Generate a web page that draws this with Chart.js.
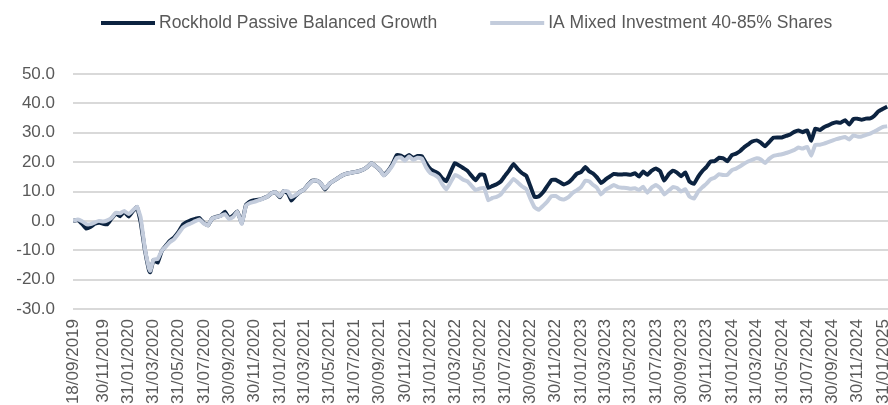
<!DOCTYPE html>
<html>
<head>
<meta charset="utf-8">
<script src="https://cdn.jsdelivr.net/npm/chart.js@4/dist/chart.umd.min.js"></script>
<style>
  html, body { margin: 0; padding: 0; background: #fff; overflow: hidden; }
  #wrap { position: relative; width: 888px; height: 405px; }
</style>
</head>
<body>
<div id="wrap"><canvas id="perfChart"></canvas></div>
<script>
// ── DATA (cumulative % return since 18/09/2019) ──
const dates = [
  '18/09/2019','30/09/2019','10/10/2019','20/10/2019','31/10/2019','10/11/2019','20/11/2019','30/11/2019','10/12/2019','20/12/2019','31/12/2019',
  '10/01/2020','20/01/2020','31/01/2020','10/02/2020','20/02/2020','29/02/2020','10/03/2020','20/03/2020','23/03/2020','31/03/2020',
  '10/04/2020','20/04/2020','30/04/2020','10/05/2020','20/05/2020','31/05/2020','10/06/2020','20/06/2020','30/06/2020',
  '10/07/2020','20/07/2020','31/07/2020','10/08/2020','20/08/2020','31/08/2020','10/09/2020','20/09/2020','30/09/2020',
  '10/10/2020','20/10/2020','31/10/2020','10/11/2020','20/11/2020','30/11/2020','10/12/2020','20/12/2020','31/12/2020',
  '10/01/2021','20/01/2021','31/01/2021','10/02/2021','20/02/2021','28/02/2021','10/03/2021','20/03/2021','31/03/2021',
  '10/04/2021','20/04/2021','30/04/2021','10/05/2021','20/05/2021','31/05/2021','10/06/2021','20/06/2021','30/06/2021',
  '10/07/2021','20/07/2021','31/07/2021','10/08/2021','20/08/2021','31/08/2021','10/09/2021','20/09/2021','30/09/2021',
  '10/10/2021','20/10/2021','31/10/2021','10/11/2021','20/11/2021','30/11/2021','10/12/2021','20/12/2021','31/12/2021',
  '10/01/2022','20/01/2022','31/01/2022','10/02/2022','20/02/2022','28/02/2022','10/03/2022','20/03/2022','31/03/2022',
  '10/04/2022','20/04/2022','30/04/2022','10/05/2022','20/05/2022','31/05/2022','10/06/2022','20/06/2022','30/06/2022',
  '10/07/2022','20/07/2022','31/07/2022','10/08/2022','20/08/2022','31/08/2022','10/09/2022','20/09/2022','30/09/2022',
  '10/10/2022','20/10/2022','31/10/2022','10/11/2022','20/11/2022','30/11/2022','10/12/2022','20/12/2022','31/12/2022',
  '10/01/2023','20/01/2023','31/01/2023','10/02/2023','20/02/2023','28/02/2023','10/03/2023','20/03/2023','31/03/2023',
  '10/04/2023','20/04/2023','30/04/2023','10/05/2023','20/05/2023','31/05/2023','10/06/2023','20/06/2023','30/06/2023',
  '10/07/2023','20/07/2023','31/07/2023','10/08/2023','20/08/2023','31/08/2023','10/09/2023','20/09/2023','30/09/2023',
  '10/10/2023','20/10/2023','31/10/2023','10/11/2023','20/11/2023','30/11/2023','10/12/2023','20/12/2023','31/12/2023',
  '10/01/2024','20/01/2024','31/01/2024','10/02/2024','20/02/2024','29/02/2024','10/03/2024','20/03/2024','31/03/2024',
  '10/04/2024','20/04/2024','30/04/2024','10/05/2024','20/05/2024','31/05/2024','10/06/2024','20/06/2024','30/06/2024',
  '10/07/2024','20/07/2024','31/07/2024','10/08/2024','20/08/2024','31/08/2024','10/09/2024','20/09/2024','30/09/2024',
  '10/10/2024','20/10/2024','31/10/2024','10/11/2024','20/11/2024','30/11/2024','10/12/2024','20/12/2024','31/12/2024',
  '10/01/2025','20/01/2025','31/01/2025','10/02/2025'
];

const rockhold = [
  0.0, 0.3, -1.0, -2.6, -2.0, -1.0, -0.6, -1.0, -1.2, 0.7, 2.5,
  1.6, 3.1, 1.5, 3.3, 4.7, -0.5, -9.8, -16.8, -17.5, -13.4,
  -14.2, -10.2, -8.4, -6.7, -5.6, -3.7, -1.3, -0.4, 0.3,
  0.7, 1.0, -0.7, -1.5, 0.8, 1.4, 1.8, 3.1, 0.9,
  1.8, 3.2, -0.7, 5.5, 6.6, 7.0, 7.2, 7.6, 8.2,
  9.3, 9.8, 8.0, 10.2, 9.3, 6.9, 8.5, 9.8, 10.7,
  12.4, 13.7, 13.7, 12.8, 10.7, 12.6, 13.6, 14.5, 15.4,
  16.0, 16.3, 16.6, 16.9, 17.4, 18.4, 19.6, 18.6, 17.4,
  15.6, 17.0, 19.4, 22.4, 22.2, 21.5, 22.4, 21.4, 22.1,
  22.0, 19.7, 17.6, 16.8, 16.0, 14.5, 13.5, 16.5, 19.7,
  18.9, 18.0, 17.1, 15.4, 13.8, 15.8, 15.7, 11.2, 11.9,
  12.5, 13.4, 15.5, 17.3, 19.4, 17.5, 16.2, 15.3, 11.7,
  8.1, 8.3, 9.8, 11.9, 13.9, 14.0, 13.2, 12.4, 13.1,
  14.4, 16.0, 16.7, 18.3, 16.8, 16.2, 14.8, 12.9, 14.1,
  15.1, 16.0, 15.8, 15.8, 15.9, 15.7, 16.2, 15.1, 16.8,
  15.7, 17.0, 17.8, 16.9, 13.7, 15.9, 17.1, 16.4, 15.2,
  16.5, 13.4, 12.6, 15.0, 16.9, 18.3, 20.2, 20.3, 21.5,
  21.3, 20.3, 22.4, 22.9, 23.8, 25.0, 26.0, 27.0, 27.4,
  26.6, 25.4, 26.8, 28.3, 28.4, 28.4, 28.9, 29.4, 30.3,
  30.8, 30.2, 30.8, 27.3, 31.4, 30.9, 31.9, 32.5, 33.2,
  33.6, 33.4, 34.3, 32.8, 34.6, 34.8, 34.4, 34.8, 34.9,
  35.8, 37.3, 38.2, 38.9
];

const sector = [
  0.0, 0.5, -0.1, -1.1, -1.1, -0.5, 0.0, -0.2, 0.2, 1.0, 2.8,
  2.6, 3.4, 2.3, 3.6, 4.9, 1.0, -9.3, -16.1, -17.0, -13.2,
  -13.0, -10.1, -8.7, -7.2, -6.2, -4.2, -2.3, -1.4, -0.8,
  -0.1, 0.5, -0.9, -1.5, 0.8, 1.3, 1.7, 2.3, 0.6,
  1.3, 3.1, -1.0, 5.2, 6.1, 6.5, 7.0, 7.5, 8.2,
  9.3, 9.8, 8.3, 10.2, 10.0, 8.0, 8.8, 9.8, 10.7,
  12.3, 13.6, 13.7, 12.8, 11.0, 12.6, 13.6, 14.5, 15.4,
  16.0, 16.3, 16.6, 16.9, 17.4, 18.4, 19.6, 18.6, 17.4,
  15.4, 16.8, 18.9, 21.4, 21.6, 20.5, 21.9, 20.8, 21.5,
  21.2, 18.3, 16.2, 15.6, 14.6, 12.6, 10.7, 13.0, 15.6,
  15.0, 14.0, 13.5, 12.0, 10.5, 11.0, 11.2, 7.0, 7.8,
  8.2, 9.0, 11.0, 12.6, 14.3, 13.0, 11.7, 10.8, 7.5,
  4.6, 3.8, 5.2, 6.6, 8.4, 8.5, 7.6, 7.3, 8.1,
  9.5, 10.4, 11.6, 13.7, 13.4, 12.3, 11.3, 9.0, 10.6,
  11.4, 12.2, 11.5, 11.3, 11.2, 10.9, 11.1, 10.5, 11.6,
  9.6, 11.3, 12.2, 11.2, 9.0, 10.3, 11.5, 11.2, 10.0,
  10.8, 8.3, 7.6, 9.9, 11.4, 12.6, 14.1, 14.7, 15.9,
  15.6, 15.7, 17.3, 17.8, 18.6, 19.4, 20.2, 20.8, 21.3,
  20.9, 19.7, 21.1, 22.1, 22.4, 22.7, 23.1, 23.6, 24.1,
  25.0, 24.6, 25.2, 22.2, 25.9, 25.9, 26.3, 26.8, 27.3,
  27.8, 28.2, 28.6, 27.7, 29.1, 28.7, 28.7, 29.2, 29.7,
  30.4, 31.2, 32.0, 32.2
];

const xTickLabels = [
  '18/09/2019','30/11/2019','31/01/2020','31/03/2020','31/05/2020','31/07/2020','30/09/2020','30/11/2020',
  '31/01/2021','31/03/2021','31/05/2021','31/07/2021','30/09/2021','30/11/2021','31/01/2022','31/03/2022',
  '31/05/2022','31/07/2022','30/09/2022','30/11/2022','31/01/2023','31/03/2023','31/05/2023','31/07/2023',
  '30/09/2023','30/11/2023','31/01/2024','31/03/2024','31/05/2024','31/07/2024','30/09/2024','30/11/2024','31/01/2025'
];

const yTicks = [-30, -20, -10, 0, 10, 20, 30, 40, 50];

const seriesNames = ['Rockhold Passive Balanced Growth', 'IA Mixed Investment 40-85% Shares'];

// ── helpers ──
function toDay(s) {
  const [d, m, y] = s.split('/').map(Number);
  return Date.UTC(y, m - 1, d) / 864e5;
}
const day0 = toDay(dates[0]);
const xs = dates.map(d => toDay(d) - day0);
const dayLabel = {};
xTickLabels.forEach(s => { dayLabel[toDay(s) - day0] = s; });

const FONT = '"Liberation Sans", Arial, sans-serif';
const TEXT = '#595959';

// ── Legend drawn as plain line + text ──
const lineLegend = {
  id: 'lineLegend',
  afterDraw(chart) {
    const ctx = chart.ctx;
    ctx.save();
    ctx.font = '17.5px ' + FONT;
    ctx.textBaseline = 'middle';
    let x = 101;
    const y = 23;
    chart.data.datasets.forEach(ds => {
      ctx.strokeStyle = ds.borderColor;
      ctx.lineWidth = 4;
      ctx.beginPath();
      ctx.moveTo(x, y);
      ctx.lineTo(x + 54, y);
      ctx.stroke();
      ctx.fillStyle = TEXT;
      ctx.fillText(ds.label, x + 58, y);
      x += 58 + ctx.measureText(ds.label).width + 53;
    });
    ctx.restore();
  }
};

new Chart(document.getElementById('perfChart'), {
  type: 'line',
  data: {
    datasets: [
      {
        label: seriesNames[0],
        data: xs.map((x, i) => ({ x, y: rockhold[i] })),
        borderColor: '#0c2340',
        borderWidth: 4,
        pointRadius: 0,
        tension: 0.1,
        order: 1
      },
      {
        label: seriesNames[1],
        data: xs.map((x, i) => ({ x, y: sector[i] })),
        borderColor: '#c3ccdc',
        borderWidth: 4,
        pointRadius: 0,
        tension: 0.1,
        order: 0
      }
    ]
  },
  options: {
    responsive: true,
    maintainAspectRatio: false,
    animation: false,
    layout: { padding: { top: 74, left: 0, right: 0, bottom: 0 } },
    plugins: { legend: { display: false }, tooltip: { enabled: false } },
    scales: {
      x: {
        type: 'linear',
        min: 0,
        max: toDay('12/02/2025') - day0,
        grid: { display: false, drawTicks: false },
        border: { display: false },
        afterBuildTicks: axis => {
          axis.ticks = xTickLabels.map(s => ({ value: toDay(s) - day0 }));
        },
        afterFit: axis => {
          axis.height = 96;
          axis.paddingLeft = 0;
          axis.paddingRight = 0;
        },
        ticks: {
          autoSkip: false,
          minRotation: 90,
          maxRotation: 90,
          padding: 10,
          color: TEXT,
          font: { family: FONT, size: 17 },
          callback: v => dayLabel[v] || ''
        }
      },
      y: {
        min: yTicks[0],
        max: yTicks[yTicks.length - 1],
        grid: { color: '#d9d9d9', lineWidth: 2, drawTicks: false },
        border: { display: false },
        afterBuildTicks: axis => {
          axis.ticks = yTicks.map(v => ({ value: v }));
        },
        afterFit: axis => { axis.width = 73; },
        ticks: {
          padding: 18,
          color: TEXT,
          font: { family: FONT, size: 17 },
          callback: v => v.toFixed(1)
        }
      }
    }
  },
  plugins: [lineLegend]
});
</script>
</body>
</html>
